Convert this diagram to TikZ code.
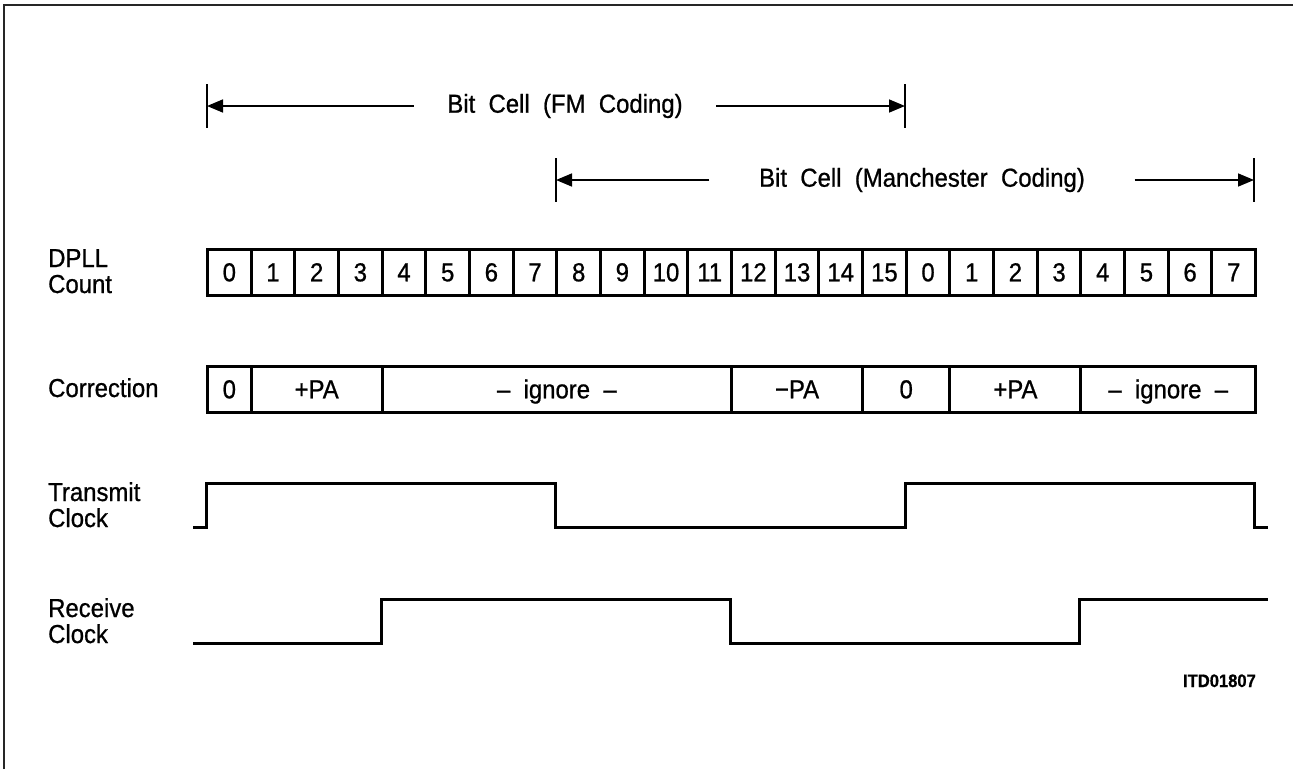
\documentclass[tikz,border=0pt]{standalone}
\usepackage{fontspec}
\setmainfont[FakeStretch=0.92,FakeBold=0.8,WordSpace=2]{Liberation Sans}
\usetikzlibrary{arrows.meta}
\begin{document}
\begin{tikzpicture}[x=1pt,y=-1pt,
  txt/.style={font=\fontsize{26}{26}\selectfont, inner sep=0pt},
  lbl/.style={txt, align=left, anchor=base west},
  cell/.style={txt, draw, line width=3pt, minimum height=46pt, text height=18.6pt, text depth=0pt, anchor=west},
  clk/.style={line width=3pt, line join=miter},
  dim/.style={line width=1.6pt, -{Triangle[length=16pt,width=13pt]}},
  tick/.style={line width=1.6pt}
]
\useasboundingbox (0,0) rectangle (1293,769);
% frame
\draw[line width=2.5pt, black!85] (4,769) -- (4,5) -- (1293,5);
\def\pw{43.67}
% DPLL count cells
\foreach \i/\t in {0/0,1/1,2/2,3/3,4/4,5/5,6/6,7/7,8/8,9/9,10/10,11/11,12/12,13/13,14/14,15/15,16/0,17/1,18/2,19/3,20/4,21/5,22/6,23/7}
  \node[cell, minimum width=\pw pt] (c\i) at ({206+\pw*\i},272) {\t};
% correction row
\foreach \a/\b/\t/\n in {0/1/0/k1,1/4/+PA/k2,4/12/– ignore –/k3,12/15/−PA/k4,15/17/0/k5,17/20/+PA/k6,20/24/– ignore –/k7}
  \node[cell, minimum width={\pw*(\b-\a)*1pt}] (\n) at ({206+\pw*\a},389) {\t};
% labels
\node[lbl] (lcount) at (48,293) {DPLL\\Count};
\node[lbl] (lcorr) at (48,397) {Correction};
\node[lbl] (ltx) at (48,527) {Transmit\\Clock};
\node[lbl] (lrx) at (48,643) {Receive\\Clock};
% dimension arrows
\coordinate (fmL) at (207,106);
\coordinate (fmR) at (905,106);
\node[txt, minimum width=302pt] (fmT) at (565,106) {Bit Cell (FM Coding)};
\draw[tick] (207,84) -- (207,128);
\draw[tick] (905,84) -- (905,128);
\draw[dim] (fmT.west) -- (fmL);
\draw[dim] (fmT.east) -- (fmR);
\coordinate (mcL) at (556,180);
\coordinate (mcR) at (1254,180);
\node[txt, minimum width=425pt] (mcT) at (922,180) {Bit Cell (Manchester Coding)};
\draw[tick] (556,158) -- (556,202);
\draw[tick] (1254,158) -- (1254,202);
\draw[dim] (mcT.west) -- (mcL);
\draw[dim] (mcT.east) -- (mcR);
% clocks
\draw[clk] (193,527) -- (206,527) -- (206,483) -- (555,483) -- (555,527) -- (905,527) -- (905,483) -- (1254,483) -- (1254,527) -- (1268,527);
\draw[clk] (193,643) -- (381,643) -- (381,599) -- (730,599) -- (730,643) -- (1079,643) -- (1079,599) -- (1268,599);
% id
\node[font=\bfseries\fontsize{18}{18}\selectfont, inner sep=0pt, anchor=base east] (id) at (1256,687) {ITD01807};
\end{tikzpicture}
\end{document}
